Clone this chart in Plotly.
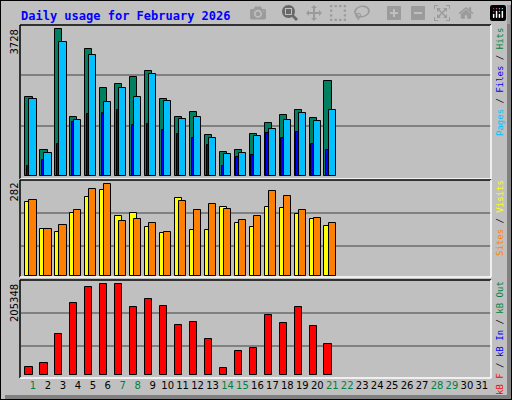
import plotly.graph_objects as go
from plotly.subplots import make_subplots

days = list(range(1, 32))
data_days = list(range(1, 22))

hits = [2014, 653, 3728, 1506, 3218, 2227, 2329, 2507, 2659, 1948, 1506,
        1618, 1049, 617, 653, 1074, 1338, 1542, 1669, 1466, 2405]
files = [1948, 577, 3396, 1415, 3066, 1872, 2228, 1999, 2583, 1897, 1440,
         1491, 958, 551, 577, 1008, 1186, 1415, 1593, 1389, 1669]
pages = [254, 398, 805, 1364, 1567, 1593, 1669, 1288, 1313, 1161, 1059,
         958, 780, 254, 475, 526, 1085, 958, 1110, 805, 653]

visits = [227, 144, 134, 193, 242, 264, 184, 193, 150, 131, 239,
          141, 141, 211, 162, 150, 211, 208, 190, 174, 153]
sites = [234, 144, 156, 202, 267, 282, 168, 174, 162, 134, 230,
         202, 220, 205, 171, 184, 260, 245, 202, 177, 162]

kbytes = [18000, 27100, 92500, 162400, 198500, 205348, 205348, 153400,
          171500, 155700, 112800, 119600, 81200, 15800, 54100, 60900,
          135400, 117300, 153400, 110500, 69900]

weekend = [1, 7, 8, 14, 15, 21, 22, 28, 29]
tick_text = [f"<span style='color:#008040'>{d}</span>" if d in weekend else str(d) for d in days]

fig = make_subplots(rows=3, cols=1)
line = dict(color="black", width=1)

fig.add_trace(go.Bar(x=data_days, y=hits, marker=dict(color="#008060", line=line),
                     width=0.49, offset=-0.52), 1, 1)
fig.add_trace(go.Bar(x=data_days, y=pages, marker=dict(color="#0000FF", line=line),
                     width=0.17, offset=-0.4), 1, 1)
fig.add_trace(go.Bar(x=data_days, y=files, marker=dict(color="#00C0FF", line=line),
                     width=0.49, offset=-0.25), 1, 1)
fig.add_trace(go.Bar(x=data_days, y=visits, marker=dict(color="#FFFF00", line=line),
                     width=0.49, offset=-0.52), 2, 1)
fig.add_trace(go.Bar(x=data_days, y=sites, marker=dict(color="#FF8000", line=line),
                     width=0.49, offset=-0.25), 2, 1)
fig.add_trace(go.Bar(x=data_days, y=kbytes, marker=dict(color="#FF0000", line=line),
                     width=0.49, offset=-0.52), 3, 1)

xr = [0.198, 31.61]
dom_x = [21 / 512, 491 / 512]
for i in (1, 2, 3):
    fig.update_xaxes(range=xr, domain=dom_x, showgrid=False, zeroline=False,
                     showticklabels=False, ticks="", row=i, col=1)
fig.update_xaxes(showticklabels=True, tickvals=days, ticktext=tick_text,
                 tickfont=dict(family="DejaVu Sans", size=10, color="black"),
                 row=3, col=1)

gridc = "#808080"
fig.update_yaxes(domain=[1 - 179 / 400, 1 - 25 / 400], range=[-76, 3837],
                 tickvals=[1279, 2558], row=1, col=1)
fig.update_yaxes(domain=[1 - 277 / 400, 1 - 180 / 400], range=[-3, 295],
                 tickvals=[91, 193], row=2, col=1)
fig.update_yaxes(domain=[1 - 378 / 400, 1 - 280 / 400], range=[-6768, 215000],
                 tickvals=[65400, 139900], row=3, col=1)
fig.update_yaxes(showticklabels=False, gridcolor=gridc, gridwidth=1.5,
                 zeroline=False, ticks="")

shapes = []
# outer frame and shadow
shapes.append(dict(type="rect", xref="paper", yref="paper", x0=0, x1=1, y0=0, y1=1,
                   line=dict(color="black", width=2)))
shapes.append(dict(type="rect", xref="paper", yref="paper", x0=507 / 512, x1=511 / 512,
                   y0=1 / 400, y1=1 - 5 / 400, fillcolor="#808080", line_width=0))
shapes.append(dict(type="rect", xref="paper", yref="paper", x0=5 / 512, x1=511 / 512,
                   y0=1 / 400, y1=5 / 400, fillcolor="#808080", line_width=0))
# panel frames: dark top/left, white bottom/right
for top, bot in [(25, 179), (180, 277), (280, 378)]:
    x0, x1 = 20 / 512, 491 / 512
    y0, y1 = 1 - bot / 400, 1 - top / 400
    shapes.append(dict(type="line", xref="paper", yref="paper", x0=x0, x1=x1, y0=y1, y1=y1,
                       line=dict(color="black", width=1.5)))
    shapes.append(dict(type="line", xref="paper", yref="paper", x0=x0, x1=x0, y0=y0, y1=y1,
                       line=dict(color="black", width=1.5)))
    shapes.append(dict(type="line", xref="paper", yref="paper", x0=x0, x1=x1, y0=y0, y1=y0,
                       line=dict(color="white", width=1.5)))
    shapes.append(dict(type="line", xref="paper", yref="paper", x0=x1, x1=x1, y0=y0, y1=y1,
                       line=dict(color="white", width=1.5)))

mono = "DejaVu Sans Mono"
ann = [
    dict(text="<b>Daily usage for February 2026</b>", x=19 / 512, y=1 - 16 / 400,
         xanchor="left", yanchor="middle", font=dict(family=mono, size=12, color="#0000FF")),
    dict(text="3728", x=14 / 512, y=1 - 28 / 400, textangle=-90, xanchor="center",
         yanchor="top", font=dict(family="DejaVu Sans", size=10, color="black")),
    dict(text="282", x=14 / 512, y=1 - 181 / 400, textangle=-90, xanchor="center",
         yanchor="top", font=dict(family="DejaVu Sans", size=10, color="black")),
    dict(text="205348", x=14 / 512, y=1 - 282 / 400, textangle=-90, xanchor="center",
         yanchor="top", font=dict(family="DejaVu Sans", size=10, color="black")),
    dict(text="<span style='color:#00C0FF'>Pages</span> / <span style='color:#0000FF'>Files</span>"
              " / <span style='color:#008040'>Hits</span>",
         x=500 / 512, y=1 - 82 / 400, textangle=-90, xanchor="center", yanchor="middle",
         font=dict(family=mono, size=9, color="black")),
    dict(text="<span style='color:#FF8000'>Sites</span> / <span style='color:#FFFF00'>Visits</span>",
         x=500 / 512, y=1 - 218 / 400, textangle=-90, xanchor="center", yanchor="middle",
         font=dict(family=mono, size=9, color="black")),
    dict(text="<span style='color:#FF0000'>kB F</span> / <span style='color:#0000FF'>kB In</span>"
              " / <span style='color:#008040'>kB Out</span>",
         x=500 / 512, y=1 - 338 / 400, textangle=-90, xanchor="center", yanchor="middle",
         font=dict(family=mono, size=9, color="black")),
]
for a in ann:
    a.update(xref="paper", yref="paper", showarrow=False)

fig.update_layout(
    width=512, height=400, margin=dict(l=0, r=0, t=0, b=0),
    paper_bgcolor="#C0C0C0", plot_bgcolor="#C0C0C0",
    barmode="overlay", showlegend=False, bargap=0,
    shapes=shapes, annotations=ann,
)

fig.write_html("out.html", post_script="document.body.style.margin='0';")
